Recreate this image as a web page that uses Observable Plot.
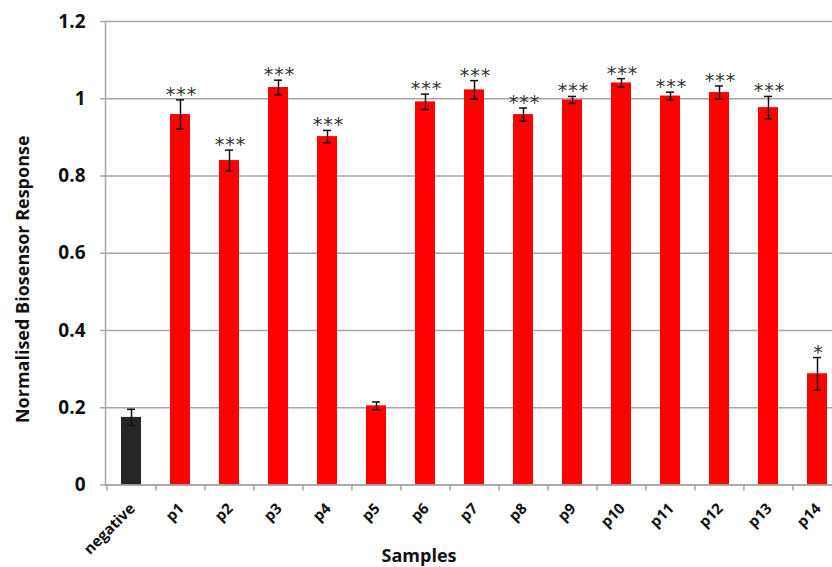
<!DOCTYPE html>
<html>
<head>
<meta charset="utf-8">
<script src="https://cdn.jsdelivr.net/npm/d3@7"></script>
<script src="https://cdn.jsdelivr.net/npm/@observablehq/plot@0.6"></script>
<style>
  html, body { margin: 0; padding: 0; background: #fff; overflow: hidden; }
  #chart { width: 832px; height: 567px; overflow: hidden; }
  #chart svg { display: block; overflow: hidden; }
  .stars text { letter-spacing: 1px; }
</style>
</head>
<body>
<div id="chart"></div>
<script>
const categories = ["negative","p1","p2","p3","p4","p5","p6","p7","p8","p9","p10","p11","p12","p13","p14"];
const values = [0.175, 0.959, 0.84, 1.029, 0.902, 0.205, 0.992, 1.023, 0.959, 0.997, 1.041, 1.007, 1.016, 0.977, 0.288];
const errors = [0.021, 0.038, 0.027, 0.019, 0.016, 0.01, 0.02, 0.024, 0.017, 0.009, 0.011, 0.01, 0.017, 0.029, 0.042];
const stars = ["", "***", "***", "***", "***", "", "***", "***", "***", "***", "***", "***", "***", "***", "*"];
const barColors = ["#262626", "#ff0000", "#ff0000", "#ff0000", "#ff0000", "#ff0000", "#ff0000", "#ff0000", "#ff0000", "#ff0000", "#ff0000", "#ff0000", "#ff0000", "#ff0000", "#ff0000"];
const yTicks = [0, 0.2, 0.4, 0.6, 0.8, 1, 1.2];
const yTitle = "Normalised Biosensor Response";
const xTitle = "Samples";

const data = categories.map((c, i) => ({
  cat: c, value: values[i], err: errors[i], stars: stars[i], color: barColors[i]
}));

// plot area runs past the right edge of the picture (cropped like the reference)
const W = 832, H = 567, ML = 105, MR = -10, MT = 21, MB = 82.5;
const step = (W - ML - MR) / categories.length;
const font = "'Open Sans', sans-serif";
const grid = "#a6a6a6";

const chart = Plot.plot({
  width: W, height: H,
  marginLeft: ML, marginRight: MR, marginTop: MT, marginBottom: MB,
  style: { fontFamily: font, background: "#fff", overflow: "hidden" },
  x: { domain: categories, paddingInner: 0.6, paddingOuter: 0.3, label: null },
  y: { domain: [0, 1.2], label: null },
  color: { type: "identity" },
  marks: [
    Plot.gridY(yTicks, { stroke: grid, strokeOpacity: 1, strokeWidth: 1.5 }),
    Plot.axisY({ ticks: yTicks, tickSize: 5, tickPadding: 15, stroke: grid, strokeWidth: 1.5,
      tickFormat: d => String(d), fontSize: 19, fontWeight: "bold", fill: "#111" }),
    Plot.frame({ anchor: "left", stroke: grid, strokeWidth: 1.5 }),
    Plot.barY(data, { x: "cat", y: "value", fill: "color" }),
    Plot.ruleY([0], { stroke: grid, strokeWidth: 1.5 }),
    Plot.axisX({ ticks: categories, tickSize: 6, text: null, stroke: grid, strokeWidth: 1.5, dx: -step / 2 }),
    Plot.axisX({ ticks: categories, tickSize: 0, tickPadding: 17, tickRotate: -45,
      fontSize: 15, fontWeight: "bold", fill: "#111", dx: 1, dy: 4 }),
    Plot.ruleX(data, { x: "cat", y1: d => d.value - d.err, y2: d => d.value + d.err, stroke: "#111", strokeWidth: 1.5 }),
    Plot.tickY(data, { x: "cat", y: d => d.value - d.err, inset: 6, stroke: "#111", strokeWidth: 1.5 }),
    Plot.tickY(data, { x: "cat", y: d => d.value + d.err, inset: 6, stroke: "#111", strokeWidth: 1.5 }),
    Plot.text(data.filter(d => d.stars), { x: "cat", y: d => d.value + d.err, text: "stars",
      lineAnchor: "bottom", dy: 1, dx: 1, fontSize: 19, fill: "#333", className: "stars",
      fontFamily: "'DejaVu Sans', sans-serif" }),
    Plot.text([yTitle], { frameAnchor: "left", textAnchor: "middle", text: d => d, rotate: -90, dx: -82, dy: 26,
      fontSize: 18, fontWeight: "bold", fill: "#111" }),
    Plot.text([xTitle], { frameAnchor: "bottom", text: d => d, dx: -55, dy: 77,
      fontSize: 18, fontWeight: "bold", fill: "#111" })
  ]
});
document.getElementById("chart").appendChild(chart);
</script>
</body>
</html>
